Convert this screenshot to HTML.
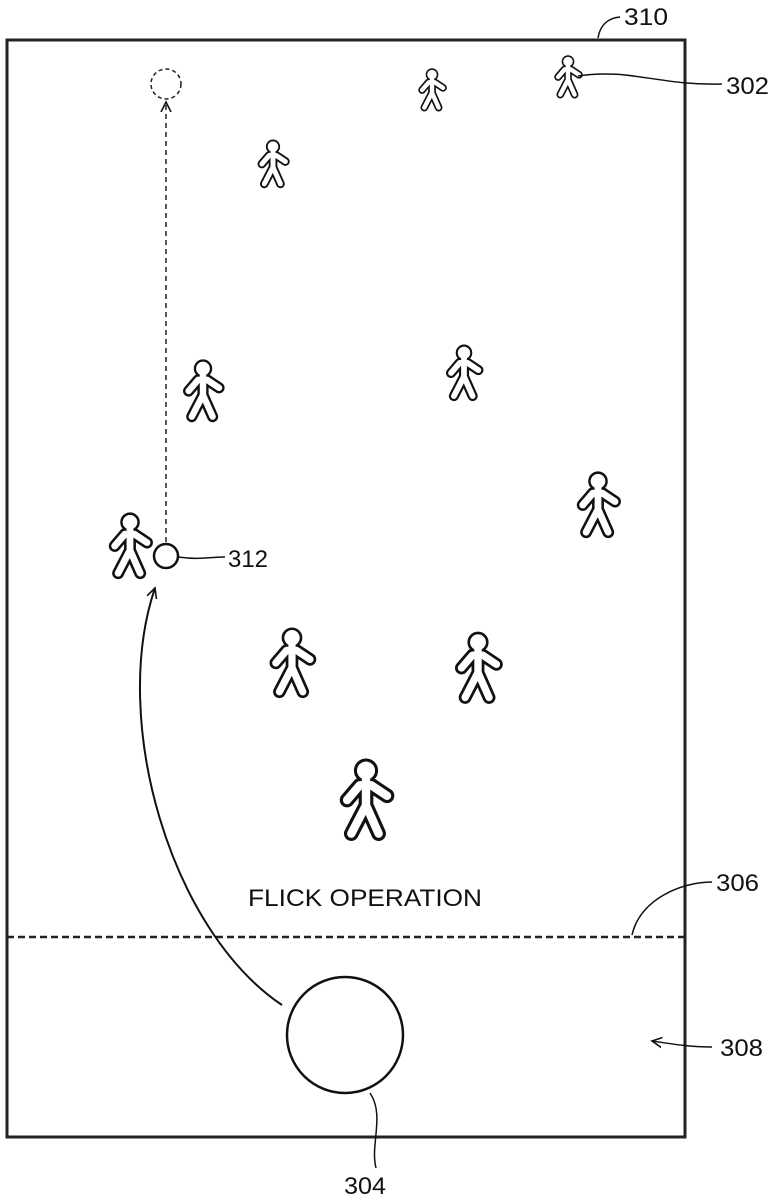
<!DOCTYPE html>
<html><head><style>
html,body{margin:0;padding:0;background:#fff;}
svg{display:block;}
text{font-family:"Liberation Sans",sans-serif;fill:#111;}
</style></head><body>
<svg width="773" height="1200" viewBox="0 0 773 1200" xmlns="http://www.w3.org/2000/svg">
<defs>
<g id="fig">
  <g stroke="#111" stroke-width="14" stroke-linecap="round" stroke-linejoin="round" fill="none">
    <path d="M0,-20 L0,5 M-18,0 L-6,-14 L5,-14 L20,-4 M0,5 L-14,32 M0,5 L12,32"/>
  </g>
  <circle cx="0" cy="-28" r="10" fill="#fff" stroke="#111" stroke-width="3"/>
  <g stroke="#fff" stroke-width="8" stroke-linecap="round" stroke-linejoin="round" fill="none">
    <path d="M0,-20 L0,5 M-18,0 L-6,-14 L5,-14 L20,-4 M0,5 L-14,32 M0,5 L12,32"/>
  </g>
  <circle cx="0" cy="-28" r="8.5" fill="#fff"/>
</g>
<marker id="ah" markerWidth="12" markerHeight="12" refX="10" refY="6" orient="auto" markerUnits="userSpaceOnUse">
  <path d="M0,1 L10,6 L0,11" fill="none" stroke="#111" stroke-width="1.6"/>
</marker>
</defs>
<rect x="7" y="40" width="678" height="1097" fill="none" stroke="#222" stroke-width="3"/>
<line x1="7" y1="937" x2="685" y2="937" stroke="#222" stroke-width="2.5" stroke-dasharray="7,4"/>
<use href="#fig" transform="translate(432,90) scale(0.55)"/>
<use href="#fig" transform="translate(568,77) scale(0.55)"/>
<use href="#fig" transform="translate(273,164) scale(0.62)"/>
<use href="#fig" transform="translate(203,391) scale(0.8)"/>
<use href="#fig" transform="translate(464,373) scale(0.72)"/>
<use href="#fig" transform="translate(598,505) scale(0.85)"/>
<use href="#fig" transform="translate(130,546) scale(0.85)"/>
<use href="#fig" transform="translate(292,663) scale(0.9)"/>
<use href="#fig" transform="translate(478,668) scale(0.92)"/>
<use href="#fig" transform="translate(366,800) scale(1.05)"/>
<circle cx="166" cy="84" r="15" fill="none" stroke="#222" stroke-width="1.5" stroke-dasharray="4,3"/>
<line x1="166" y1="542" x2="166" y2="102" stroke="#222" stroke-width="1.5" stroke-dasharray="5,4" marker-end="url(#ah)"/>
<circle cx="166" cy="556" r="12" fill="#fff" stroke="#111" stroke-width="2.5"/>
<path d="M282,1005 C170,930 110,720 155,588" fill="none" stroke="#111" stroke-width="2" marker-end="url(#ah)"/>
<circle cx="345" cy="1035" r="58" fill="#fff" stroke="#111" stroke-width="2.5"/>
<text x="248" y="906" font-size="24" textLength="234" lengthAdjust="spacingAndGlyphs">FLICK OPERATION</text>
<path d="M598,38 C600,25 608,18 620,17" fill="none" stroke="#111" stroke-width="1.5"/>
<text x="624" y="25" font-size="24" textLength="44" lengthAdjust="spacingAndGlyphs">310</text>
<path d="M578,76 C630,68 660,86 722,84" fill="none" stroke="#111" stroke-width="1.5"/>
<text x="726" y="94" font-size="24" textLength="43" lengthAdjust="spacingAndGlyphs">302</text>
<path d="M178,557 C200,560 210,557 225,557" fill="none" stroke="#111" stroke-width="1.5"/>
<text x="228" y="567" font-size="24" textLength="40" lengthAdjust="spacingAndGlyphs">312</text>
<path d="M632,935 C640,900 680,882 712,882" fill="none" stroke="#111" stroke-width="1.5"/>
<text x="716" y="891" font-size="24" textLength="43" lengthAdjust="spacingAndGlyphs">306</text>
<path d="M712,1047 C690,1047 672,1044 652,1041" fill="none" stroke="#111" stroke-width="1.5" marker-end="url(#ah)"/>
<text x="720" y="1056" font-size="24" textLength="43" lengthAdjust="spacingAndGlyphs">308</text>
<path d="M370,1093 C385,1115 370,1145 376,1168" fill="none" stroke="#111" stroke-width="1.5"/>
<text x="344" y="1194" font-size="24" textLength="42" lengthAdjust="spacingAndGlyphs">304</text>
</svg>
</body></html>
